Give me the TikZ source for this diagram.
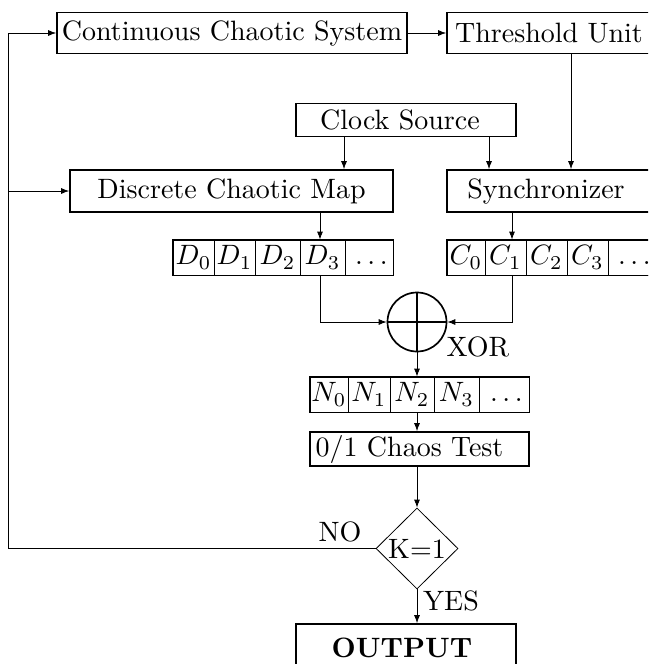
\documentclass[tikz,border=0pt]{standalone}
\usetikzlibrary{arrows.meta,shapes.geometric}
% labels are set at 10pt and enlarged, so they keep the 10pt design
\newcommand\lbl[1]{\scalebox{1.4}{#1}}
% trailing dots of a sequence, sitting on the common baseline
\newcommand\seqdots{\lbl{$\vphantom{D_0}\ldots$}}
\begin{document}
\begin{tikzpicture}[x=0.5pt,y=-0.5pt,
  every node/.append style={font=\normalsize},
  blk/.style={draw,line width=0.85pt,inner sep=0pt,anchor=center},
  cell/.style={draw,line width=0.4pt,inner sep=0pt,minimum height=17.5pt,anchor=center},
  arr/.style={line width=0.4pt,-{Latex[length=4pt,width=3pt]}}]
\clip (0,0) rectangle (648,664);
\useasboundingbox (0,0) rectangle (648,664);

% main blocks
\node[blk,minimum width=175pt,minimum height=20.5pt] (cont) at (232,33) {\lbl{Continuous Chaotic System}};
\node[blk,minimum width=102pt,minimum height=20.5pt] (thr) at (549,33) {\lbl{Threshold Unit}};
\node[blk,minimum width=110pt,minimum height=16.5pt] (clk) at (406,120) {\lbl{Clock Source}\kern6pt};
\node[blk,minimum width=161.5pt,minimum height=21pt] (disc) at (231.5,191) {\lbl{Discrete Chaotic Map}};
\node[blk,minimum width=102pt,minimum height=21pt] (sync) at (549,191) {\lbl{Synchronizer}\kern3pt};

% D sequence
\node[cell,minimum width=20.5pt] (d0) at (193.5,257.5) {\lbl{$D_0$}};
\node[cell,minimum width=20.5pt] (d1) at (234.5,257.5) {\lbl{$D_1$}};
\node[cell,minimum width=22.5pt] (d2) at (277.5,257.5) {\lbl{$D_2$}};
\node[cell,minimum width=22.5pt] (d3) at (322.5,257.5) {\lbl{$D_3$}};
\node[cell,minimum width=24pt] (d4) at (369,257.5) {\seqdots};
\draw[line width=0.85pt] (d0.north west) rectangle (d4.south east);

% C sequence
\node[cell,minimum width=19pt] (c0) at (466,257.5) {\lbl{$C_0$}};
\node[cell,minimum width=20.5pt] (c1) at (505.5,257.5) {\lbl{$C_1$}};
\node[cell,minimum width=20.5pt] (c2) at (546.5,257.5) {\lbl{$C_2$}};
\node[cell,minimum width=20.5pt] (c3) at (587.5,257.5) {\lbl{$C_3$}};
\node[cell,minimum width=24pt] (c4) at (632,257.5) {\seqdots};
\draw[line width=0.85pt] (c0.north west) rectangle (c4.south east);

% XOR
\node[draw,circle,line width=0.85pt,minimum size=29.5pt,inner sep=0pt] (xor) at (417,322) {};
\draw[line width=0.85pt] (xor.north) -- (xor.south) (xor.west) -- (xor.east);
\node (xorlbl) at (478,347) {\lbl{XOR}};

% N sequence
\node[cell,minimum width=19pt] (n0) at (329,394.5) {\lbl{$N_0$}};
\node[cell,minimum width=21pt] (n1) at (369,394.5) {\lbl{$N_1$}};
\node[cell,minimum width=22pt] (n2) at (412,394.5) {\lbl{$N_2$}};
\node[cell,minimum width=22.5pt] (n3) at (456.5,394.5) {\lbl{$N_3$}};
\node[cell,minimum width=25pt] (n4) at (504,394.5) {\seqdots};
\draw[line width=0.85pt] (n0.north west) rectangle (n4.south east);

\node[blk,minimum width=109.5pt,minimum height=17pt] (test) at (419.5,449) {\lbl{0/1 Chaos Test}\kern10pt};
\node[draw,diamond,line width=0.4pt,minimum width=41pt,minimum height=40.5pt,inner sep=0pt] (dec) at (417,548.5) {\lbl{K=1}};
\node (no) at (340,532) {\lbl{NO}};
\node (yes) at (451,601) {\lbl{YES}};
\node[blk,minimum width=110pt,minimum height=24pt] (out) at (406,648) {\lbl{\bfseries OUTPUT}\kern4pt};

% column guides
\coordinate (loop) at (8,0);
\coordinate (colA) at (344,0);
\coordinate (colB) at (489,0);
\coordinate (colT) at (571,0);
\coordinate (colD) at (320,0);
\coordinate (colC) at (512,0);
\coordinate (colX) at (417,0);

% connectors
\draw[arr] (cont.east) -- (thr.west);
\draw[arr] (colA |- clk.south) -- (colA |- disc.north);
\draw[arr] (colB |- clk.south) -- (colB |- sync.north);
\draw[arr] (colT |- thr.south) -- (colT |- sync.north);
\draw[arr] (colD |- disc.south) -- (colD |- d3.north);
\draw[arr] (colC |- sync.south) -- (colC |- c1.north);
\draw[arr] (colD |- d3.south) -- (colD |- xor.west) -- (xor.west);
\draw[arr] (colC |- c1.south) -- (colC |- xor.east) -- (xor.east);
\draw[arr] (xor.south) -- (colX |- n2.north);
\draw[arr] (colX |- n2.south) -- (colX |- test.north);
\draw[arr] (colX |- test.south) -- (dec.north);
\draw[arr] (dec.south) -- (dec.south |- out.north);
\draw[arr] (dec.west) -- (loop |- dec.west) -- (loop |- cont.west) -- (cont.west);
\draw[arr] (loop |- disc.west) -- (disc.west);
\end{tikzpicture}
\end{document}
